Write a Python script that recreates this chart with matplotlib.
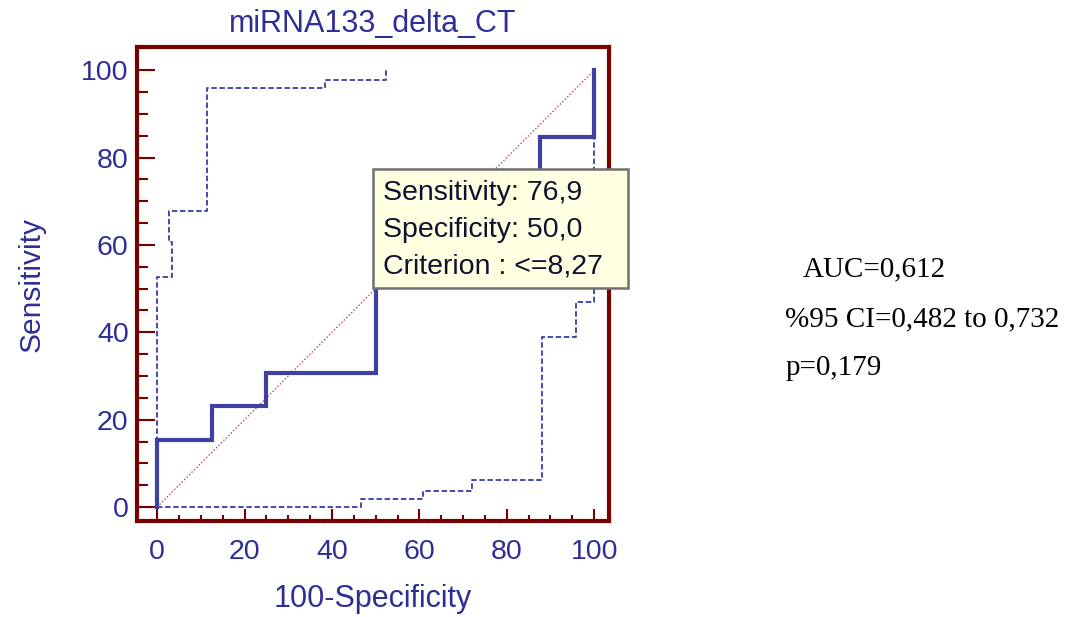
import matplotlib.pyplot as plt
from matplotlib.patches import Rectangle
from matplotlib.ticker import MultipleLocator

plt.rcParams['font.family'] = ['Liberation Sans', 'DejaVu Sans']

# ROC curve (100-specificity, sensitivity)
roc_x = [0, 0, 12.5, 12.5, 25, 25, 50, 50, 87.5, 87.5, 100, 100]
roc_y = [0, 15.38, 15.38, 23.08, 23.08, 30.77, 30.77, 76.92, 76.92, 84.62, 84.62, 100]

# upper confidence bound
up_x = [0, 0, 3.4, 3.4, 2.7, 2.7, 11.4, 11.4, 38.3, 38.3, 52.4, 52.4]
up_y = [0, 52.6, 52.6, 60.6, 60.6, 67.7, 67.7, 96.0, 96.0, 97.7, 97.7, 100]

# lower confidence bound
lo_x = [0, 46.7, 46.7, 60.8, 60.8, 72.0, 72.0, 88.0, 88.0, 95.9, 95.9, 100, 100]
lo_y = [0, 0, 1.8, 1.8, 3.7, 3.7, 6.3, 6.3, 39.0, 39.0, 47.0, 47.0, 100]

diag = [0, 100]

title = 'miRNA133_delta_CT'
box_lines = ['Sensitivity: 76,9', 'Specificity: 50,0', 'Criterion : <=8,27']
stats = ['AUC=0,612', '%95 CI=0,482 to 0,732', 'p=0,179']

navy = '#2e2e96'
frame = '#7a0000'
fs = 20.5

fig = plt.figure(figsize=(10.74, 6.17), dpi=100)
ax = fig.add_axes([0.1276, 0.1556, 0.4395, 0.768])

ax.plot(diag, diag, color='#b05050', lw=1.0, ls=(0, (1, 1.5)))
ax.plot(up_x, up_y, color='#3a3aa8', lw=1.3, ls=(0, (3, 1.5)))
ax.plot(lo_x, lo_y, color='#3a3aa8', lw=1.3, ls=(0, (3, 1.5)))
ax.plot(roc_x, roc_y, color='#4040a0', lw=3.0, solid_joinstyle='miter')

ax.set_xlim(-4.6, 103.4)
ax.set_ylim(-3.2, 105.3)
ax.xaxis.set_major_locator(MultipleLocator(20))
ax.xaxis.set_minor_locator(MultipleLocator(5))
ax.yaxis.set_major_locator(MultipleLocator(20))
ax.yaxis.set_minor_locator(MultipleLocator(5))
ax.tick_params(axis='x', which='major', direction='in', length=9, width=1.5,
               color=frame, labelcolor=navy, labelsize=fs, pad=13)
ax.tick_params(axis='x', which='minor', direction='in', length=4, width=1.5, color=frame)
ax.tick_params(axis='y', which='major', direction='in', length=13, width=1.5,
               color=frame, labelcolor=navy, labelsize=fs, pad=6)
ax.tick_params(axis='y', which='minor', direction='in', length=8, width=1.5, color=frame)
for s in ax.spines.values():
    s.set_color(frame)
    s.set_linewidth(3)

ax.set_title(title, color=navy, fontsize=22, pad=11)
ax.set_xlabel('100-Specificity', color=navy, fontsize=22, labelpad=14)
ax.set_ylabel('Sensitivity', color=navy, fontsize=21.5, labelpad=26)

# tooltip box
ax.add_patch(Rectangle((0.5, 0.4916), 0.54, 0.2514, transform=ax.transAxes,
                       fc='#ffffe1', ec='#707070', lw=1.8, zorder=5, clip_on=False))
for i, line in enumerate(box_lines):
    ax.text(0.521, 0.692 - i * 0.077, line, transform=ax.transAxes, fontsize=fs,
            color='#101030', va='center', ha='left', zorder=6, clip_on=False)

fig.text(0.747, 0.563, stats[0], family='Liberation Serif', fontsize=21, va='center')
fig.text(0.731, 0.482, stats[1], family='Liberation Serif', fontsize=21, va='center')
fig.text(0.731, 0.404, stats[2], family='Liberation Serif', fontsize=21, va='center')

fig.savefig('out.png', dpi=100)
